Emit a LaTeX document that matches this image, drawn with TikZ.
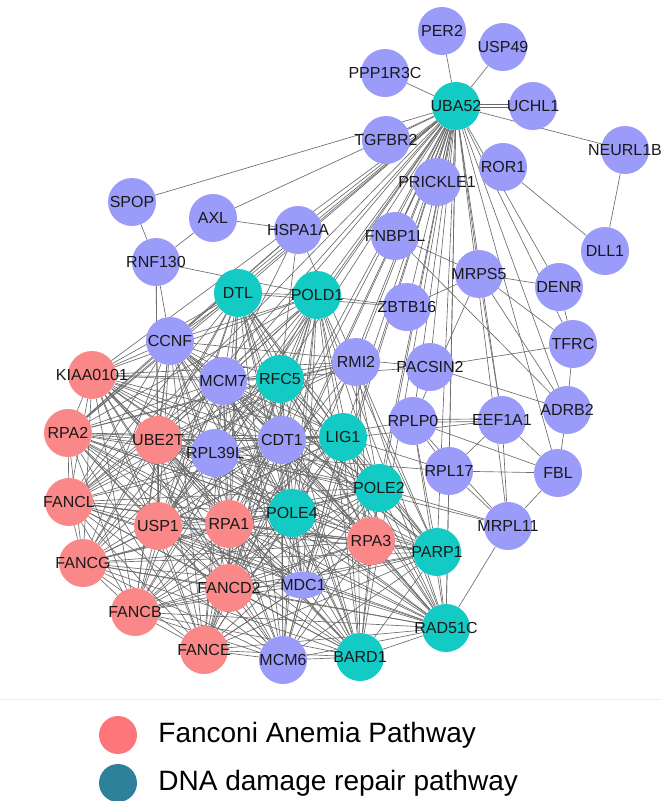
\documentclass[tikz,border=0pt]{standalone}
\usepackage{fontspec}
\setmainfont{Liberation Sans}
\usetikzlibrary{shapes.geometric, positioning, backgrounds}
\definecolor{genepurple}{RGB}{155,155,250}
\definecolor{geneteal}{RGB}{20,202,196}
\definecolor{genered}{RGB}{250,136,136}
\definecolor{legred}{RGB}{255,118,122}
\definecolor{legteal}{RGB}{46,128,155}

\begin{document}
\begin{tikzpicture}[x=1pt, y=-1pt,
  gene/.style={circle, minimum size=48pt, inner sep=0pt},
  other/.style={gene, fill=genepurple},
  repair/.style={gene, fill=geneteal},
  fanconi/.style={gene, fill=genered},
  every label/.style={font=\fontsize{16}{16}\selectfont, text=black!90, inner sep=0pt},
  link/.style={draw=black!58, line width=0.65pt},
  legdot/.style={circle, minimum size=38pt, inner sep=0pt},
  legtext/.style={font=\fontsize{28}{30}\selectfont, inner sep=0pt}
]
  \useasboundingbox (0,0) rectangle (661,801);

  % top star round UBA52
  \node[other, label=center:PER2] (PER2) at (442,31) {};
  \node[other, label=center:USP49] (USP49) at (503,47) {};
  \node[other, label=center:PPP1R3C] (PPP1R3C) at (385,73) {};
  \node[repair, label=center:UBA52] (UBA52) at (456,106) {};
  \node[other, label=center:UCHL1] (UCHL1) at (533,106) {};
  \node[other, label=center:TGFBR2] (TGFBR2) at (386,140) {};
  \node[other, label=center:NEURL1B] (NEURL1B) at (625,150) {};
  \node[other, label=center:ROR1] (ROR1) at (503,167) {};
  \node[other, label=center:PRICKLE1] (PRICKLE1) at (437,182) {};
  \node[other, label=center:SPOP] (SPOP) at (132,202) {};
  \node[other, label=center:AXL] (AXL) at (213,218) {};
  \node[other, label=center:HSPA1A] (HSPA1A) at (298,230) {};
  \node[other, label=center:FNBP1L] (FNBP1L) at (395,236) {};
  \node[other, label=center:DLL1] (DLL1) at (605,251) {};
  \node[other, label=center:RNF130] (RNF130) at (156,262) {};
  \node[other, label=center:MRPS5] (MRPS5) at (479,274) {};
  \node[other, label=center:DENR] (DENR) at (559,287) {};
  \node[repair, label=center:DTL] (DTL) at (238,293) {};
  \node[repair, label=center:POLD1] (POLD1) at (317,295) {};
  \node[other, label=center:ZBTB16] (ZBTB16) at (407,307) {};

  % middle
  \node[other, label=center:CCNF] (CCNF) at (170,341) {};
  \node[other, label=center:TFRC] (TFRC) at (573,344) {};
  \node[other, label=center:RMI2] (RMI2) at (356,362) {};
  \node[other, label=center:PACSIN2] (PACSIN2) at (430,367) {};
  \node[fanconi, label=center:KIAA0101] (KIAA0101) at (92,375) {};
  \node[other, label=center:MCM7] (MCM7) at (223,381) {};
  \node[repair, label=center:RFC5] (RFC5) at (280,379) {};
  \node[other, label=center:ADRB2] (ADRB2) at (567,410) {};
  \node[other, label=center:RPLP0] (RPLP0) at (413,421) {};
  \node[other, label=center:EEF1A1] (EEF1A1) at (502,420) {};
  \node[fanconi, label=center:RPA2] (RPA2) at (68,433) {};
  \node[repair, label=center:LIG1] (LIG1) at (343,437) {};
  \node[fanconi, label=center:UBE2T] (UBE2T) at (158,440) {};
  \node[other, label=center:CDT1] (CDT1) at (282,440) {};
  \node[other, label=center:RPL39L] (RPL39L) at (215,453) {};
  \node[other, label=center:RPL17] (RPL17) at (449,471) {};
  \node[other, label=center:FBL] (FBL) at (558,473) {};
  \node[repair, label=center:POLE2] (POLE2) at (379,488) {};

  % bottom
  \node[fanconi, label=center:FANCL] (FANCL) at (69,502) {};
  \node[repair, label=center:POLE4] (POLE4) at (292,513) {};
  \node[fanconi, label=center:RPA1] (RPA1) at (229,524) {};
  \node[fanconi, label=center:USP1] (USP1) at (158,526) {};
  \node[other, label=center:MRPL11] (MRPL11) at (508,526) {};
  \node[fanconi, label=center:RPA3] (RPA3) at (371,541) {};
  \node[repair, label=center:PARP1] (PARP1) at (437,552) {};
  \node[fanconi, label=center:FANCG] (FANCG) at (83,563) {};
  \node[ellipse, minimum width=43pt, minimum height=27pt, inner sep=0pt, fill=genepurple,
        label=center:MDC1] (MDC1) at (303,585) {};
  \node[fanconi, label=center:FANCD2] (FANCD2) at (229,588) {};
  \node[fanconi, label=center:FANCB] (FANCB) at (135,612) {};
  \node[repair, label=center:RAD51C] (RAD51C) at (446,628) {};
  \node[fanconi, label=center:FANCE] (FANCE) at (204,650) {};
  \node[repair, label=center:BARD1] (BARD1) at (360,657) {};
  \node[other, label=center:MCM6] (MCM6) at (283,660) {};

  \begin{scope}[on background layer]
    % dense core
    \def\corelist{KIAA0101,RPA2,UBE2T,FANCL,USP1,RPA1,FANCG,FANCD2,FANCB,FANCE,RPA3,MCM6,BARD1,RAD51C,PARP1,POLE2,POLE4,LIG1,CDT1,RFC5,MCM7,DTL,POLD1,CCNF,MDC1}
    \foreach \a [count=\i] in \corelist {
      \foreach \b [count=\j] in \corelist {
        \ifnum\j>\i \draw[link] (\a) -- (\b);\fi
      }
    }
    % fan out of UBA52
    \foreach \t in {PER2,USP49,PPP1R3C,NEURL1B,TGFBR2,SPOP,AXL,HSPA1A,PRICKLE1,FNBP1L,
                    DTL,POLD1,ZBTB16,MRPS5,DENR,TFRC,CCNF,KIAA0101,MCM7,RFC5,RMI2,PACSIN2,
                    RPLP0,EEF1A1,ADRB2,RPA2,UBE2T,RPL39L,CDT1,LIG1,RPL17,FBL,POLE2,FANCL,
                    USP1,RPA1,POLE4,MRPL11,RPA3,PARP1,FANCD2,MDC1,RAD51C,MCM6,BARD1,FANCE}
      \draw[link] (UBA52) -- (\t);
    % paired links
    \draw[link, transform canvas={yshift=1.3pt}] (UBA52) -- (UCHL1);
    \draw[link, transform canvas={yshift=-1.3pt}] (UBA52) -- (UCHL1);
    \draw[link, transform canvas={yshift=1.3pt}] (RPLP0) -- (EEF1A1);
    \draw[link, transform canvas={yshift=-1.3pt}] (RPLP0) -- (EEF1A1);
    % other links
    \foreach \a/\b in {NEURL1B/DLL1, ROR1/DLL1, SPOP/RNF130, AXL/RNF130, AXL/HSPA1A,
                       RNF130/POLD1, RNF130/CCNF, RNF130/UBE2T, RNF130/USP1,
                       FNBP1L/MRPS5, FNBP1L/ADRB2, MRPS5/DENR, MRPS5/ZBTB16, MRPS5/TFRC,
                       MRPS5/ADRB2, MRPS5/RPLP0, MRPS5/EEF1A1, DENR/TFRC, TFRC/ADRB2,
                       PACSIN2/TFRC, PACSIN2/ADRB2, PACSIN2/MCM7, CCNF/PACSIN2,
                       ZBTB16/POLD1, ZBTB16/DTL, ADRB2/FBL,
                       RPLP0/RPL17, RPLP0/FBL, RPLP0/MRPL11, RPLP0/PARP1, RPLP0/RAD51C,
                       EEF1A1/RPL17, EEF1A1/FBL, EEF1A1/MRPL11, RPL17/FBL, RPL17/MRPL11,
                       FBL/MRPL11, MRPL11/RAD51C, POLE2/MRPL11, RPL17/RAD51C, LIG1/RPL17,
                       RPL39L/RPLP0, RPL39L/RPL17, RPL39L/EEF1A1, RPL39L/MRPL11,
                       RPL39L/RPA2, RPL39L/UBE2T, RPL39L/MCM7, RPL39L/CDT1, RPL39L/USP1,
                       RMI2/RPA1, RMI2/RPA2, RMI2/RPA3, RMI2/FANCD2, RMI2/BARD1,
                       RMI2/RAD51C, RMI2/FANCL, RMI2/UBE2T, RMI2/KIAA0101, RMI2/MCM7,
                       RMI2/RFC5, RMI2/POLE2,
                       HSPA1A/CCNF, HSPA1A/RPA2, HSPA1A/PARP1, HSPA1A/RFC5, HSPA1A/MCM7}
      \draw[link] (\a) -- (\b);
  \end{scope}

  % legend
  \draw[black!6] (0,699) coordinate (sepL) -- (661,699) coordinate (sepR);
  \node[legdot, fill=legred] (legFA) at (118,735) {};
  \node[legtext, anchor=west, right=21pt of legFA] (legFAtxt) {Fanconi Anemia Pathway};
  \node[legdot, fill=legteal] (legDNA) at (118,783) {};
  \node[legtext, anchor=west, right=21pt of legDNA] (legDNAtxt) {DNA damage repair pathway};
\end{tikzpicture}
\end{document}
